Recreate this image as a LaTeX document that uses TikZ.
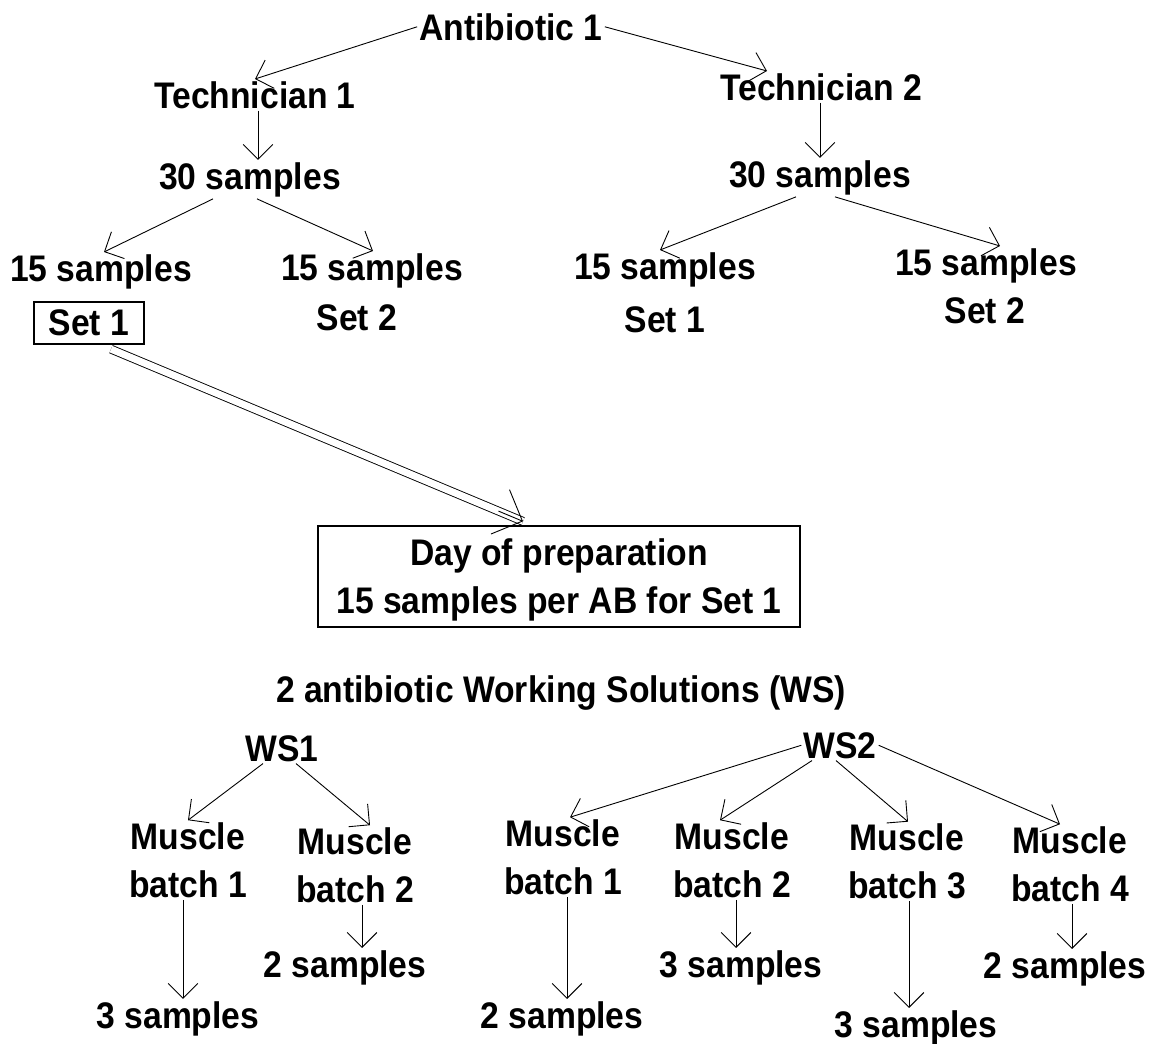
\documentclass[tikz,border=0pt]{standalone}
\usepackage{fontspec}
\setmainfont[FakeStretch=0.91]{Liberation Sans}
\usetikzlibrary{arrows.meta}
\begin{document}
\begin{tikzpicture}[x=1pt,y=-1pt,
  txt/.style={font=\bfseries\fontsize{37}{48}\selectfont, inner sep=2pt},
  lbl/.style={txt, anchor=base},
  two/.style={txt, align=center},
  box/.style={txt, draw, line width=1.3pt},
  arr/.style={line width=0.9pt, -{Straight Barb[angle=90:21pt, line width=0.9pt]}},
  bigarr/.style={line width=0.9pt, -{Straight Barb[angle=90:34pt, line width=0.9pt]}},
  dbl/.style={line width=0.9pt, double distance=7pt},
  ]
\useasboundingbox (0,0) rectangle (1163,1044);
% top tree
\node[lbl] (ab) at (511,40) {Antibiotic 1};
\node[lbl] (t1) at (255,108) {Technician 1};
\node[lbl] (t2) at (821,100) {Technician 2};
\node[lbl] (s30a) at (250,189) {30 samples};
\node[lbl] (s30b) at (820,187) {30 samples};
\node[lbl] (s15a) at (101,281) {15 samples};
\node[lbl] (s15b) at (372,280) {15 samples};
\node[lbl] (s15c) at (665,279) {15 samples};
\node[lbl] (s15d) at (986,275) {15 samples};
\node[box, minimum width=110pt, minimum height=42pt] (set1a) at (89,323) {Set 1};
\node[lbl] (set2a) at (357,330) {Set 2};
\node[lbl] (set1b) at (665,332) {Set 1};
\node[lbl] (set2b) at (985,323) {Set 2};
% day box
\node[box, align=center, text depth=0pt, minimum width=482pt, minimum height=101pt] (day) at (559,576.5)
  {Day of preparation\\15 samples per AB for Set 1};
% working solutions
\node[lbl] (wst) at (561,702) {2 antibiotic Working Solutions (WS)};
\node[lbl] (ws1) at (282,761) {WS1};
\node[lbl] (ws2) at (840,758) {WS2};
\node[two] (mb1) at (188,860) {Muscle\\batch 1};
\node[two] (mb2) at (355,865) {Muscle\\batch 2};
\node[two] (mc1) at (563,857) {Muscle\\batch 1};
\node[two] (mc2) at (732,860) {Muscle\\batch 2};
\node[two] (mc3) at (907,861.5) {Muscle\\batch 3};
\node[two] (mc4) at (1070,864) {Muscle\\batch 4};
\node[lbl] (sa) at (178,1028) {3 samples};
\node[lbl] (sb) at (345,977) {2 samples};
\node[lbl] (sc) at (562,1028) {2 samples};
\node[lbl] (sd) at (741,977) {3 samples};
\node[lbl] (se) at (916,1037) {3 samples};
\node[lbl] (sf) at (1065,978) {2 samples};
% connectors
\draw[arr] (ab.west) -- (t1.north);
\draw[arr] (ab.east) -- ([xshift=-54pt]t2.north);
\draw[arr] ([xshift=3pt]t1.south) -- ([xshift=8pt]s30a.north);
\draw[arr] ([xshift=-1pt]t2.south) -- (s30b.north);
\draw[arr] ([xshift=-37pt]s30a.south) -- ([xshift=3pt]s15a.north);
\draw[arr] ([xshift=7pt]s30a.south) -- ([xshift=1pt]s15b.north);
\draw[arr] ([xshift=-24pt]s30b.south) -- ([xshift=-5pt]s15c.north);
\draw[arr] ([xshift=15pt]s30b.south) -- ([xshift=14pt]s15d.north);
% double arrow
\draw[dbl] ([xshift=22pt,yshift=-4.5pt]set1a.south) -- ([xshift=-36pt,yshift=4pt]day.north);
\draw[bigarr, shorten <=420pt] ([xshift=22pt,yshift=-4.5pt]set1a.south) -- ([xshift=-36pt,yshift=4pt]day.north);
% WS arrows
\draw[arr] ([xshift=-19pt]ws1.south) -- (mb1.north);
\draw[arr] ([xshift=14pt]ws1.south) -- ([xshift=15pt]mb2.north);
\draw[arr] (ws2.west) -- ([xshift=7pt]mc1.north);
\draw[arr] ([xshift=-28pt]ws2.south) -- ([xshift=-12pt]mc2.north);
\draw[arr] ([xshift=-4pt]ws2.south) -- ([xshift=1pt]mc3.north);
\draw[arr] (ws2.east) -- ([xshift=-10pt]mc4.north);
% batch to samples
\draw[arr] ([xshift=-5pt]mb1.south) -- ([xshift=5pt]sa.north);
\draw[arr] ([xshift=7pt]mb2.south) -- ([xshift=17pt]sb.north);
\draw[arr] ([xshift=4pt]mc1.south) -- ([xshift=5pt]sc.north);
\draw[arr] ([xshift=4pt]mc2.south) -- ([xshift=-5pt]sd.north);
\draw[arr] ([xshift=2pt]mc3.south) -- ([xshift=-7pt]se.north);
\draw[arr] ([xshift=2pt]mc4.south) -- ([xshift=7pt]sf.north);
\end{tikzpicture}
\end{document}
